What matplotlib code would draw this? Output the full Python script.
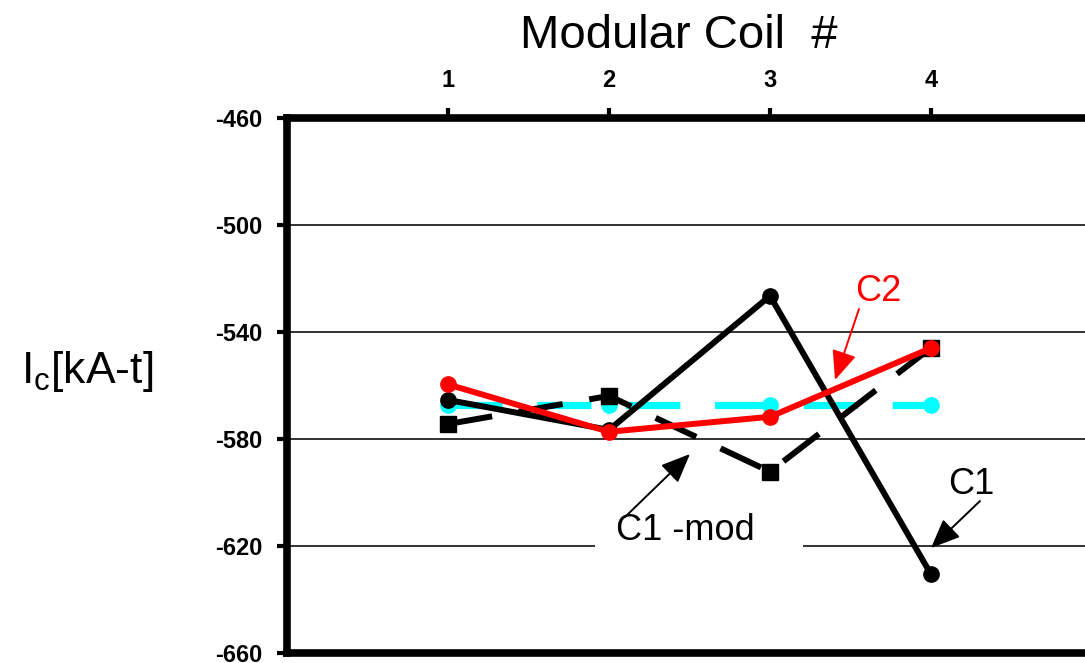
import matplotlib
matplotlib.use("Agg")
import matplotlib.pyplot as plt
from matplotlib.patches import Rectangle

plt.rcParams['font.family'] = ['Liberation Sans', 'DejaVu Sans']
plt.rcParams['mathtext.default'] = 'regular'
plt.rcParams['axes.unicode_minus'] = False

# Modular coil numbers and coil currents [kA-t]
coils = [1, 2, 3, 4]
c1 = [-565.4, -576.6, -526.5, -630.6]
c2 = [-559.6, -577.3, -571.7, -546.0]
c1_mod = [-574.4, -563.9, -592.2, -545.9]
reference = [-567.3, -567.3, -567.3, -567.3]

y_ticks = [-460, -500, -540, -580, -620, -660]
y_tick_labels = ["-460", "-500", "-540", "-580", "-620", "-660"]

W, H = 1085, 663
fig = plt.figure(figsize=(W / 100, H / 100), dpi=100)
ax = fig.add_axes([287 / W, (H - 653) / H, (1092 - 287) / W, (653 - 118) / H])

ax.set_xlim(0, 5)
ax.set_ylim(-660, -460)

# horizontal grid
ax.set_yticks(y_ticks)
ax.set_yticklabels(y_tick_labels, fontsize=17, fontweight='bold', va='center_baseline')
ax.set_xticks(coils)
ax.set_xticklabels([str(c) for c in coils], fontsize=17, fontweight='bold')
ax.xaxis.tick_top()
ax.tick_params(axis='x', direction='out', length=7, width=3, pad=12)
ax.tick_params(axis='y', direction='out', length=7, width=3, pad=11)
ax.yaxis.grid(True, color='#222222', linewidth=1.3, zorder=0)
ax.set_axisbelow(True)

for side in ['left', 'top', 'bottom', 'right']:
    ax.spines[side].set_linewidth(5.5)
    ax.spines[side].set_color('black')

# series
ax.plot(coils, reference, color='#00FFFF', linewidth=5.2, linestyle=(0, (7.5, 4.8)),
        marker='o', markersize=11, zorder=2)
ax.plot(coils, c1_mod, color='black', linewidth=4.3, linestyle=(0, (7.5, 4.5)),
        marker='s', markersize=11, zorder=3)
ax.plot(coils, c1, color='black', linewidth=4.3, marker='o', markersize=11, zorder=4)
ax.plot(coils, c2, color='#FF0000', linewidth=4.3, marker='o', markersize=11, zorder=5)

# labels with arrows (positions in figure pixels from the top-left corner)
def px(x, y):
    return ax.transData.inverted().transform(fig.transFigure.transform((x / W, 1 - y / H)))

arrow_style = '-|>,head_length=0.9,head_width=0.38'


def callout(text, color, text_pos, tail, head):
    ax.annotate("", xy=px(*head), xytext=px(*tail), zorder=6,
                arrowprops=dict(arrowstyle=arrow_style, color=color, mutation_scale=20,
                                lw=1.4, shrinkA=0, shrinkB=0))
    ax.text(*px(*text_pos), text, color=color, fontsize=26,
            ha='center', va='center', zorder=6)


# white box behind the C1 -mod label
box = Rectangle((595 / W, 1 - 562 / H), (803 - 595) / W, (562 - 512) / H,
                transform=fig.transFigure, facecolor='white', edgecolor='none', zorder=1.5)
ax.add_patch(box)

callout("C2", '#FF0000', (878, 292), (859, 309), (835, 380))
callout("C1", 'black', (971, 485), (980, 501), (931, 548))
callout("C1 -mod", 'black', (685, 531), (625, 517), (690, 454))

fig.text(679 / W, 1 - 36 / H, "Modular Coil  #", fontsize=34, ha='center', va='center')
fig.text(87 / W, 1 - 372 / H, r"I$_c$[kA-t]", fontsize=32, ha='center', va='center')

fig.savefig("out.png", dpi=100)
